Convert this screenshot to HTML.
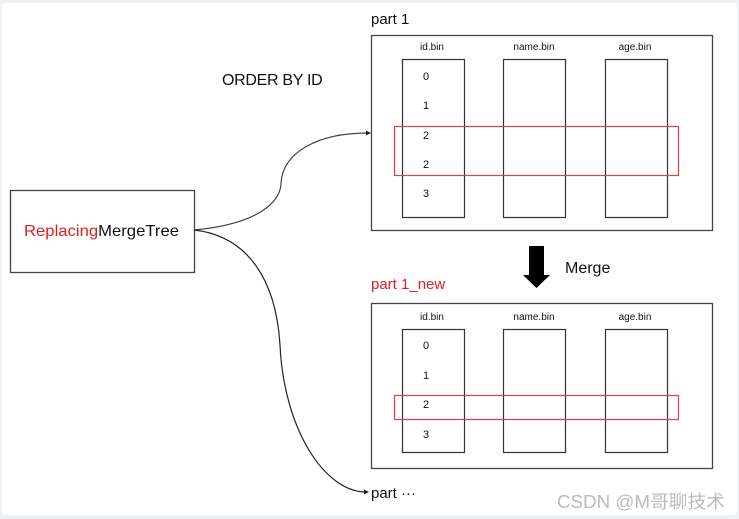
<!DOCTYPE html>
<html><head><meta charset="utf-8"><style>
html,body{margin:0;padding:0;background:#eef0f3;}
body{width:739px;height:519px;overflow:hidden;position:relative;}
</style></head><body>
<svg width="739" height="519" viewBox="0 0 739 519" xmlns="http://www.w3.org/2000/svg" style="position:absolute;left:0;top:0">
<rect x="2" y="3" width="735" height="512" rx="4" fill="#fff"/>
<g font-family="Liberation Sans, sans-serif" fill="#111">
<rect x="10.5" y="190.5" width="184" height="82" fill="none" stroke="#444" stroke-width="1.3"/>
<text x="24" y="236" font-size="16" textLength="155" lengthAdjust="spacingAndGlyphs"><tspan fill="#e02020">Replacing</tspan>MergeTree</text>
<text x="222" y="85" font-size="16" letter-spacing="-0.3">ORDER BY ID</text>
<path d="M194,230 C258,224 281,202 281,183 C283,152 318,133 368,133" fill="none" stroke="#444" stroke-width="1.2"/>
<path d="M366,130.5 L371,133 L366,135.5Z" fill="#222"/>
<path d="M194,230 C248,236 276,280 280,345 C284,430 325,492 366,492" fill="none" stroke="#222" stroke-width="1.2"/>
<path d="M364,489.5 L369,492 L364,494.5Z" fill="#222"/>
<text x="371" y="24" font-size="15">part 1</text>
<rect x="371.5" y="35.5" width="341" height="195" fill="none" stroke="#444" stroke-width="1.3"/>
<g font-size="10" text-anchor="middle">
<text x="432" y="50">id.bin</text><text x="534" y="50">name.bin</text><text x="635" y="50">age.bin</text>
<text x="432" y="320">id.bin</text><text x="534" y="320">name.bin</text><text x="635" y="320">age.bin</text>
</g>
<g fill="none" stroke="#333" stroke-width="1.2">
<rect x="402.5" y="59.5" width="62" height="158"/>
<rect x="503.5" y="59.5" width="62" height="158"/>
<rect x="605.5" y="59.5" width="62" height="158"/>
<rect x="402.5" y="329.5" width="62" height="123"/>
<rect x="503.5" y="329.5" width="62" height="123"/>
<rect x="605.5" y="329.5" width="62" height="123"/>
</g>
<g font-size="11" text-anchor="middle">
<text x="426" y="80">0</text><text x="426" y="109">1</text><text x="426" y="139">2</text><text x="426" y="168">2</text><text x="426" y="197">3</text>
<text x="426" y="349">0</text><text x="426" y="379">1</text><text x="426" y="408">2</text><text x="426" y="438">3</text>
</g>
<rect x="394.5" y="126.5" width="284" height="49" fill="none" stroke="#e04040" stroke-width="1.2"/>
<path d="M529,246 H544 V275 H550 L536.5,288 L523,275 H529Z" fill="#000"/>
<text x="565" y="273" font-size="16">Merge</text>
<text x="371" y="289" font-size="15" fill="#e02020">part 1_new</text>
<rect x="371.5" y="303.5" width="341" height="165" fill="none" stroke="#444" stroke-width="1.3"/>
<rect x="394.5" y="395.5" width="284" height="24" fill="none" stroke="#e04040" stroke-width="1.2"/>
<text x="371" y="498" font-size="15">part ···</text>
<text x="557" y="508" font-size="18" fill="#bbb" textLength="168" lengthAdjust="spacingAndGlyphs" font-family="Liberation Sans, Noto Sans CJK SC, sans-serif">CSDN @M哥聊技术</text>
</g>
</svg>
</body></html>
